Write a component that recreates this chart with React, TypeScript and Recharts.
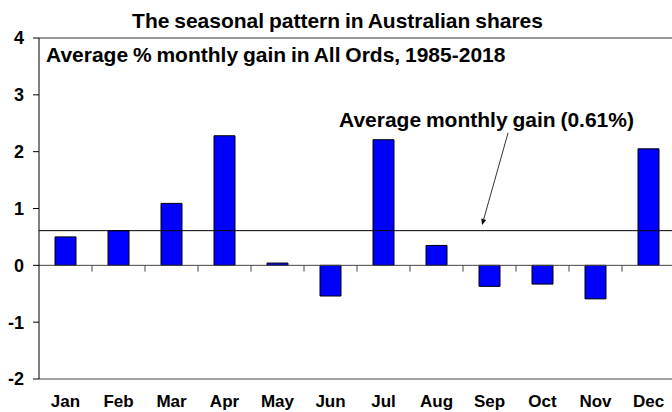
import React from 'react';
import { BarChart, Bar, XAxis, YAxis, ReferenceLine } from 'recharts';

const MONTHS = ['Jan', 'Feb', 'Mar', 'Apr', 'May', 'Jun', 'Jul', 'Aug', 'Sep', 'Oct', 'Nov', 'Dec'];
const GAINS = [0.5, 0.61, 1.09, 2.28, 0.04, -0.54, 2.21, 0.35, -0.37, -0.33, -0.59, 2.05];
const AVERAGE_GAIN = 0.61;
const Y_TICKS = [-2, -1, 0, 1, 2, 3, 4];

const TITLE = 'The seasonal pattern in Australian shares';
const SUBTITLE = 'Average % monthly gain in All Ords, 1985-2018';
const NOTE = 'Average monthly gain (0.61%)';
// arrow from the note down to the average line, in data units
const NOTE_ARROW = [
  { x: 9.35, y: 2.33 },
  { x: 8.86, y: 0.71 },
];

const FONT = '"Liberation Sans", Arial, sans-serif';

const data = MONTHS.map((m, i) => ({ m: i + 1, gain: GAINS[i] }));
const monthTicks = MONTHS.map((_, i) => i + 1);
// tick marks between months on the zero line
const boundaries = MONTHS.slice(1).map((_, i) => i + 1.5);

function ArrowShape(props: any) {
  const { x1, y1, x2, y2 } = props;
  if (x1 == null) return null;
  const ang = Math.atan2(y2 - y1, x2 - x1);
  const len = 6;
  const w = 2.5;
  const bx = x2 - len * Math.cos(ang);
  const by = y2 - len * Math.sin(ang);
  const px = -Math.sin(ang) * w;
  const py = Math.cos(ang) * w;
  return (
    <g>
      <line x1={x1} y1={y1} x2={bx} y2={by} stroke="#000" strokeWidth={0.8} />
      <polygon points={`${x2},${y2} ${bx + px},${by + py} ${bx - px},${by - py}`} fill="#000" />
    </g>
  );
}

function ZeroTick(props: any) {
  const { x1, y1, x2, y2 } = props;
  if (x1 == null) return null;
  return <line x1={x1} y1={y1} x2={x2} y2={y2} stroke="#444" strokeWidth={1} />;
}

const textStyle = { wordSpacing: -1 };

export default function App() {
  return (
    <div style={{ position: 'absolute', left: 0, top: 0, width: 672, height: 412, overflow: 'hidden', background: '#fff' }}>
      <BarChart
        width={675}
        height={412}
        data={data}
        margin={{ top: 38, right: 0, bottom: 0, left: 0 }}
      >
        <XAxis
          dataKey="m"
          type="number"
          domain={[0.5, 12.5]}
          ticks={monthTicks}
          interval={0}
          tickFormatter={(v: number) => MONTHS[v - 1]}
          height={33}
          tickLine={false}
          tickSize={6}
          tickMargin={10}
          axisLine={{ stroke: '#444', strokeWidth: 1 }}
          tick={{ fill: '#000', fontSize: 17, fontWeight: 'bold', fontFamily: FONT }}
        />
        <YAxis
          type="number"
          domain={[-2, 4]}
          ticks={Y_TICKS}
          interval={0}
          width={39}
          tickSize={6}
          tickMargin={9}
          axisLine={{ stroke: '#000', strokeWidth: 1 }}
          tickLine={{ stroke: '#000', strokeWidth: 1 }}
          tick={{ fill: '#000', fontSize: 18, fontWeight: 'bold', fontFamily: FONT }}
        />
        <ReferenceLine y={4} stroke="#333" strokeWidth={1} />
        <ReferenceLine y={0} stroke="#444" strokeWidth={1} />
        {boundaries.map((b) => (
          <ReferenceLine
            key={b}
            segment={[{ x: b, y: 0 }, { x: b, y: -0.11 }]}
            shape={ZeroTick}
            ifOverflow="visible"
          />
        ))}
        <Bar
          dataKey="gain"
          barSize={21}
          fill="#0000FF"
          stroke="#000"
          strokeWidth={1}
          isAnimationActive={false}
        />
        <ReferenceLine y={AVERAGE_GAIN} stroke="#000" strokeWidth={1} />
        <ReferenceLine segment={NOTE_ARROW} shape={ArrowShape} ifOverflow="visible" />
      </BarChart>
      <svg
        width={672}
        height={412}
        style={{ position: 'absolute', left: 0, top: 0, pointerEvents: 'none' }}
      >
        <text x={337.5} y={28} textAnchor="middle" fontFamily={FONT} fontWeight="bold" fontSize={21} fill="#000" style={textStyle}>
          {TITLE}
        </text>
        <text x={46} y={62} fontFamily={FONT} fontWeight="bold" fontSize={21} fill="#000" style={textStyle}>
          {SUBTITLE}
        </text>
        <text x={339} y={127} fontFamily={FONT} fontWeight="bold" fontSize={21} fill="#000" style={textStyle}>
          {NOTE}
        </text>
      </svg>
    </div>
  );
}
